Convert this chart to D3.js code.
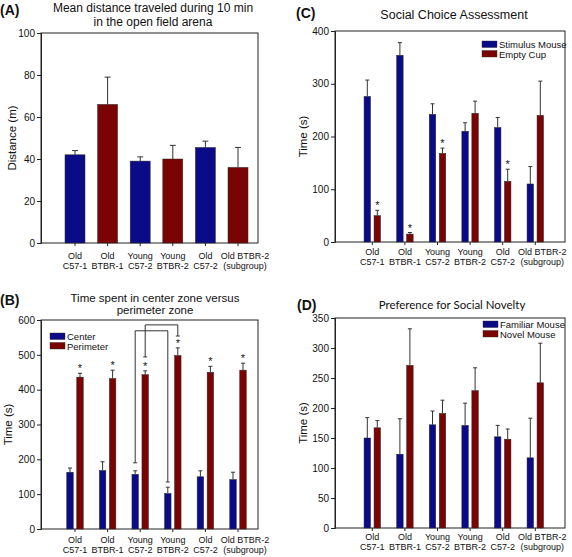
<!DOCTYPE html>
<html><head><meta charset="utf-8">
<script src="https://cdn.jsdelivr.net/npm/d3@7"></script>
<style>
body{margin:0;background:#fff;}
text{font-family:"Liberation Sans",Arial,sans-serif;fill:#111;}
</style></head>
<body>
<svg id="c" width="572" height="557"></svg>
<script>
// ---- data ----
const categories = [["Old","C57-1"],["Old","BTBR-1"],["Young","C57-2"],["Young","BTBR-2"],["Old","C57-2"],["Old BTBR-2","(subgroup)"]];

// (A) distance
const distMean = [42, 66, 39, 40, 45.5, 36];
const distErr  = [44, 79, 41, 46.5, 48.5, 45.5];   // top of error bar
const distColors = ["blue","red","blue","red","blue","red"];
const distTicks = [0,20,40,60,80,100];

// (B) center vs perimeter
const centerMean = [163, 168, 157, 102, 150, 142];
const centerErr  = [175, 193, 167, 120, 167, 163];
const perimMean  = [436, 432, 443, 498, 450, 456];
const perimErr   = [447, 456, 454, 520, 467, 476];
const perimStars = [1,1,1,1,1,1];
const zoneTicks = [0,100,200,300,400,500,600];
// brackets: [series, category from, value at from end, category to, value at to end, top value]
const brackets = [
  ["Center", 2, 190, 3, 135, 569],
  ["Perimeter", 2, 494, 3, 554, 586]
];

// (C) social choice
const stimMean = [276, 354, 242, 210, 217, 110];
const stimErr  = [307, 378, 262, 226, 236, 143];
const cupMean  = [50, 15, 168, 244, 115, 240];
const cupErr   = [60, 18, 178, 267, 138, 305];
const cupStars = [1,1,1,0,1,0];
const choiceTicks = [0,100,200,300,400];

// (D) social novelty
const famMean = [150, 123, 172, 171, 152, 117];
const famErr  = [184, 182, 195, 208, 171, 183];
const novMean = [167, 271, 191, 229, 148, 242];
const novErr  = [179, 332, 213, 267, 165, 308];
const noveltyTicks = [0,50,100,150,200,250,300,350];

const BLUE = "#0b0b87", RED = "#7a0404";
const svg = d3.select("#c");

function panel(opt){
  const g = svg.append("g");
  const x = d3.scaleBand().domain(d3.range(6)).range(opt.xr).paddingInner(0).paddingOuter(0);
  const y = d3.scaleLinear().domain([0, opt.ymax]).range([opt.y1, opt.y0]);
  // frame
  g.append("rect").attr("x",opt.x0).attr("y",opt.y0).attr("width",opt.x1-opt.x0).attr("height",opt.y1-opt.y0)
    .attr("fill","none").attr("stroke","#222").attr("stroke-width",1);
  // y axis
  const ya = g.append("g").attr("transform",`translate(${opt.x0},0)`)
    .call(d3.axisLeft(y).tickValues(opt.ticks).tickSize(4).tickPadding(2));
  ya.select(".domain").attr("stroke","#222");
  ya.selectAll(".tick line").attr("stroke","#222");
  ya.selectAll("text").attr("font-size","10px").attr("fill","#111").style("font-family","Liberation Sans, Arial");
  // x axis
  const xa = g.append("g").attr("transform",`translate(0,${opt.y1})`)
    .call(d3.axisBottom(x).tickSize(3).tickFormat(""));
  xa.select(".domain").remove();
  xa.selectAll(".tick line").attr("stroke","#222");
  const lab = g.append("g");
  categories.forEach((c,i)=>{
    const cx = x(i)+x.bandwidth()/2 + (i===5?7:0);
    const t = lab.append("text").attr("text-anchor","middle").attr("font-size","9px");
    t.append("tspan").attr("x",cx).attr("y",opt.y1+opt.lo).text(c[0]);
    t.append("tspan").attr("x",cx).attr("y",opt.y1+opt.lo+10).text(c[1]);
  });
  // y label
  g.append("text").attr("transform",`translate(${opt.ylx},${(opt.y0+opt.y1)/2}) rotate(-90)`)
    .attr("text-anchor","middle").attr("font-size","11.5px").text(opt.ylabel);
  // panel letter
  g.append("text").attr("x",opt.lx).attr("y",opt.ly).attr("font-size","14px").attr("font-weight","bold").text(opt.letter);
  // title
  const tt = g.append("text").attr("text-anchor","middle").attr("font-size",opt.tfs||"12px");
  if (opt.tfont) tt.style("font-family",opt.tfont);
  opt.title.forEach((s,k)=>tt.append("tspan").attr("x",opt.tx).attr("y",opt.ty+k*opt.tlh).text(s));
  return {g,x,y};
}

function drawSeries(p, means, errs, color, offset, width, capW, stars){
  const {g,x,y} = p;
  const cx = i => x(i)+x.bandwidth()/2+offset;
  g.append("g").selectAll("rect").data(means).join("rect")
    .attr("x",(d,i)=>cx(i)-width/2).attr("width",width)
    .attr("y",d=>y(d)).attr("height",d=>y(0)-y(d))
    .attr("fill",(d,i)=>Array.isArray(color)?color[i]:color).attr("stroke","#2a2a2a").attr("stroke-width",0.5);
  const e = g.append("g").attr("stroke","#333").attr("stroke-width",1);
  means.forEach((m,i)=>{
    e.append("line").attr("x1",cx(i)).attr("x2",cx(i)).attr("y1",y(m)).attr("y2",y(errs[i]));
    e.append("line").attr("x1",cx(i)-capW/2).attr("x2",cx(i)+capW/2).attr("y1",y(errs[i])).attr("y2",y(errs[i]));
    if (stars && stars[i]) g.append("text").attr("x",cx(i)).attr("y",y(errs[i])-1).attr("text-anchor","middle")
      .attr("font-size","11px").text("*");
  });
}

// ---- Panel A ----
const pA = panel({x0:41,x1:258,y0:33,y1:243,xr:[58.7,254.3],ymax:100,ticks:distTicks,lo:16,
  ylabel:"Distance (m)",ylx:16,letter:"(A)",lx:0,ly:15,
  title:["Mean distance traveled during 10 min","in the open field arena"],tx:153,ty:12,tlh:13.5});
drawSeries(pA, distMean, distErr, distColors.map(c=>c==="blue"?BLUE:RED), 0, 20, 6, null);

// ---- Panel B ----
const pB = panel({x0:41,x1:258,y0:320,y1:529,xr:[58.7,254.3],ymax:600,ticks:zoneTicks,lo:14,
  ylabel:"Time (s)",ylx:12,letter:"(B)",lx:0,ly:305,
  title:["Time spent in center zone versus","perimeter zone"],tx:155,ty:302,tlh:12,tfs:"11.5px"});
drawSeries(pB, centerMean, centerErr, BLUE, -5, 6.5, 4, null);
drawSeries(pB, perimMean, perimErr, RED, 5, 6.5, 4, perimStars);
{
  const {g,x,y} = pB;
  const bg = g.append("g").attr("stroke","#333").attr("fill","none").attr("stroke-width",1);
  brackets.forEach(b=>{
    const off = b[0]==="Center"?-5:5;
    const xa = x(b[1])+x.bandwidth()/2+off, xb = x(b[3])+x.bandwidth()/2+off;
    bg.append("path").attr("d",`M${xa},${y(b[2])}V${y(b[5])}H${xb}V${y(b[4])}`);
    bg.append("line").attr("x1",xa-2).attr("x2",xa+2).attr("y1",y(b[2])).attr("y2",y(b[2]));
    bg.append("line").attr("x1",xb-2).attr("x2",xb+2).attr("y1",y(b[4])).attr("y2",y(b[4]));
  });
}

// ---- Panel C ----
const pC = panel({x0:335,x1:565,y0:31,y1:242,xr:[356,551.6],ymax:400,ticks:choiceTicks,lo:13,
  ylabel:"Time (s)",ylx:307,letter:"(C)",lx:296,ly:18,
  title:["Social Choice Assessment"],tx:454,ty:19,tlh:12,tfs:"12.5px"});
drawSeries(pC, stimMean, stimErr, BLUE, -5, 6.5, 4, null);
drawSeries(pC, cupMean, cupErr, RED, 5, 6.5, 4, cupStars);

// ---- Panel D ----
const pD = panel({x0:335,x1:565,y0:318,y1:528,xr:[356,551.6],ymax:350,ticks:noveltyTicks,lo:12,
  ylabel:"Time (s)",ylx:307,letter:"(D)",lx:297,ly:310,
  title:["Preference for Social Novelty"],tx:452,ty:309,tlh:12,tfs:"11.5px",tfont:"Lato, sans-serif"});
drawSeries(pD, famMean, famErr, BLUE, -5, 6.5, 4, null);
drawSeries(pD, novMean, novErr, RED, 5, 6.5, 4, null);

// ---- legends ----
function legend(xs, ys, items){
  const lg = svg.append("g");
  items.forEach((it,k)=>{
    lg.append("rect").attr("x",xs).attr("y",ys+k*9.5).attr("width",15).attr("height",6.5)
      .attr("fill",it[1]).attr("stroke","#2a2a2a").attr("stroke-width",0.4);
    lg.append("text").attr("x",xs+17).attr("y",ys+k*9.5+7).attr("font-size","9.5px").text(it[0]);
  });
}
legend(50, 333, [["Center",BLUE],["Perimeter",RED]]);
legend(482, 41, [["Stimulus Mouse",BLUE],["Empty Cup",RED]]);
legend(483, 321, [["Familiar Mouse",BLUE],["Novel Mouse",RED]]);
</script>
</body></html>
